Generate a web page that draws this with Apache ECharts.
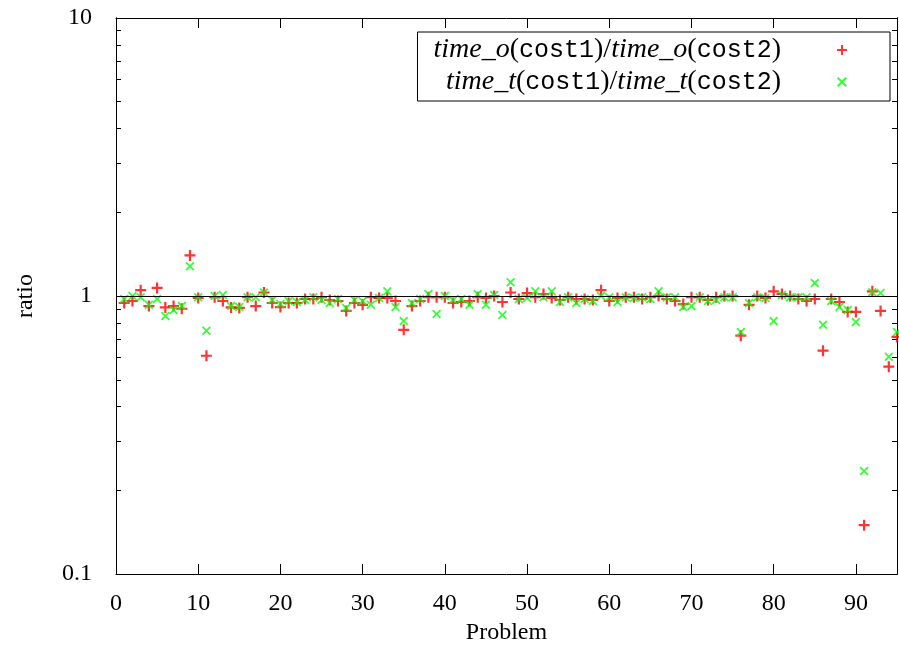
<!DOCTYPE html>
<html>
<head>
<meta charset="utf-8">
<script src="https://cdn.jsdelivr.net/npm/echarts@6/dist/echarts.min.js"></script>
<style>
  html, body { margin: 0; padding: 0; background: #ffffff; }
  #chart { width: 899px; height: 650px; }
</style>
</head>
<body>
<div id="chart"></div>
<script>
// Problem indices
const problems = [
  1, 2, 3, 4, 5, 6, 7, 8, 9, 10,
  11, 12, 13, 14, 15, 16, 17, 18, 19, 20,
  21, 22, 23, 24, 25, 26, 27, 28, 29, 30,
  31, 32, 33, 34, 35, 36, 37, 38, 39, 40,
  41, 42, 43, 44, 45, 46, 47, 48, 49, 50,
  51, 52, 53, 54, 55, 56, 57, 58, 59, 60,
  61, 62, 63, 64, 65, 66, 67, 68, 69, 70,
  71, 72, 73, 74, 75, 76, 77, 78, 79, 80,
  81, 82, 83, 84, 85, 86, 87, 88, 89, 90,
  91, 92, 93, 94, 95
];

// time_o(cost1) / time_o(cost2)
const ratioO = [
  0.944, 0.96, 1.05, 0.92, 1.07, 0.91, 0.92, 0.90, 1.40, 0.984,
  0.61, 0.99, 0.96, 0.91, 0.906, 0.99, 0.92, 1.03, 0.944, 0.913,
  0.944, 0.944, 0.976, 0.976, 0.99, 0.968, 0.96, 0.884, 0.944, 0.93,
  0.99, 0.984, 0.984, 0.96, 0.756, 0.92, 0.96, 0.99, 0.99, 0.99,
  0.944, 0.952, 0.96, 0.99, 0.984, 1.0, 0.952, 1.03, 0.976, 1.025,
  0.99, 1.017, 0.984, 0.968, 0.99, 0.976, 0.976, 0.968, 1.05, 0.96,
  0.984, 0.99, 0.99, 0.976, 0.99, 1.0, 0.976, 0.96, 0.936, 0.99,
  0.99, 0.968, 0.99, 1.0, 1.0, 0.72, 0.93, 1.0, 0.984, 1.04,
  1.017, 1.0, 0.976, 0.96, 0.976, 0.636, 0.976, 0.952, 0.877, 0.877,
  0.15, 1.04, 0.884, 0.557, 0.713
];

// time_t(cost1) / time_t(cost2)
const ratioT = [
  0.976, 1.0, 0.99, 0.93, 0.976, 0.848, 0.891, 0.92, 1.28, 0.99,
  0.75, 1.0, 1.008, 0.92, 0.913, 0.99, 0.99, 1.03, 0.968, 0.936,
  0.96, 0.952, 0.968, 0.99, 0.968, 0.944, 0.976, 0.906, 0.968, 0.96,
  0.93, 0.984, 1.04, 0.913, 0.814, 0.944, 0.976, 1.017, 0.862, 1.0,
  0.968, 0.976, 0.93, 1.017, 0.93, 1.008, 0.855, 1.12, 0.976, 0.984,
  1.04, 0.99, 1.04, 0.952, 0.99, 0.944, 0.976, 0.96, 1.0, 0.99,
  0.952, 0.99, 0.984, 0.99, 0.976, 1.04, 0.99, 0.99, 0.913, 0.92,
  0.99, 0.96, 0.968, 0.99, 0.99, 0.743, 0.944, 0.99, 0.984, 0.814,
  1.008, 0.99, 0.99, 0.99, 1.113, 0.788, 0.96, 0.913, 0.891, 0.807,
  0.235, 1.033, 1.025, 0.605, 0.743
];

const xTicks = [0, 10, 20, 30, 40, 50, 60, 70, 80, 90];
const yMajorTicks = [0.1, 1, 10];
const yMinorTicks = [0.2, 0.3, 0.4, 0.5, 0.6, 0.7, 0.8, 0.9, 2, 3, 4, 5, 6, 7, 8, 9];

const seriesNames = ['time_o(cost1)/time_o(cost2)', 'time_t(cost1)/time_t(cost2)'];

const SERIF = 'Liberation Serif';
const MONO = 'Liberation Mono';
const BLACK = '#000000';

// Point markers: a plus and a diagonal cross, as filled outlines
const PLUS = 'path://M4,0H6V4H10V6H6V10H4V6H0V4H4Z';
const CROSS = 'path://M0,1.4L1.4,0L5,3.6L8.6,0L10,1.4L6.4,5L10,8.6L8.6,10L5,6.4L1.4,10L0,8.6L3.6,5Z';

function pairs(xs, ys) {
  return xs.map((x, i) => [x, ys[i]]);
}

function yAxisDef(position, ticks, len, withLabels) {
  return {
    type: 'log',
    logBase: 10,
    min: 0.1,
    max: 10,
    position: position,
    axisLine: { show: true, lineStyle: { color: BLACK, width: 1 } },
    axisTick: { show: true, inside: true, length: len, customValues: ticks,
                lineStyle: { color: BLACK, width: 1 } },
    minorTick: { show: false },
    splitLine: { show: false },
    axisLabel: withLabels ? {
      show: true,
      customValues: ticks,
      margin: 24,
      fontFamily: SERIF,
      fontSize: 24,
      color: BLACK,
      formatter: v => String(Number(v.toPrecision(3)))
    } : { show: false }
  };
}

function xAxisDef(position, withLabels) {
  const ax = {
    type: 'value',
    min: 0,
    max: 95,
    position: position,
    axisLine: { show: true, onZero: false, lineStyle: { color: BLACK, width: 1 } },
    axisTick: { show: true, inside: true, length: 10, customValues: xTicks,
                lineStyle: { color: BLACK, width: 1 } },
    splitLine: { show: false },
    axisLabel: withLabels ? {
      show: true,
      customValues: xTicks,
      margin: 18,
      fontFamily: SERIF,
      fontSize: 24,
      color: BLACK
    } : { show: false }
  };
  if (withLabels) {
    ax.name = 'Problem';
    ax.nameLocation = 'middle';
    ax.nameGap = 46;
    ax.nameTextStyle = { fontFamily: SERIF, fontSize: 24, color: BLACK };
  }
  return ax;
}

const yMain = yAxisDef('left', yMajorTicks, 10, true);
yMain.name = 'ratio';
yMain.nameLocation = 'middle';
yMain.nameGap = 78;
yMain.nameTextStyle = { fontFamily: SERIF, fontSize: 24, color: BLACK };

const chart = echarts.init(document.getElementById('chart'), null, { renderer: 'canvas' });

chart.setOption({
  animation: false,
  backgroundColor: '#ffffff',
  grid: { left: 116, right: 2, top: 18, bottom: 73, containLabel: false },
  xAxis: [xAxisDef('bottom', true), xAxisDef('top', false)],
  yAxis: [
    yMain,
    yAxisDef('left', yMinorTicks, 5, false),
    yAxisDef('right', yMajorTicks, 10, false),
    yAxisDef('right', yMinorTicks, 5, false)
  ],
  legend: {
    orient: 'vertical',
    align: 'right',
    right: 9,
    top: 32,
    padding: [4, 43, 5, 16],
    itemGap: 4,
    itemWidth: 10,
    itemHeight: 10,
    borderColor: BLACK,
    borderWidth: 1,
    borderRadius: 0,
    data: seriesNames,
    formatter: function (name) {
      const m = name.match(/^time_(\w)\(cost1\)\/time_\w\(cost2\)$/);
      const s = m ? m[1] : '';
      return '{it|time_' + s + '}{rm|(}{tt|cost1}{rm|)/}{it|time_' + s + '}{rm|(}{tt|cost2}{rm|)}{sp|}';
    },
    textStyle: {
      color: BLACK,
      lineHeight: 26,
      rich: {
        it: { fontFamily: SERIF, fontStyle: 'italic', fontSize: 28, lineHeight: 26, color: BLACK },
        rm: { fontFamily: SERIF, fontSize: 28, lineHeight: 26, color: BLACK },
        tt: { fontFamily: MONO, fontSize: 25, lineHeight: 26, color: BLACK },
        sp: { width: 51, lineHeight: 26 }
      }
    }
  },
  series: [
    {
      name: seriesNames[0],
      type: 'scatter',
      xAxisIndex: 0,
      yAxisIndex: 0,
      symbol: PLUS,
      symbolSize: 11,
      itemStyle: { color: '#ff0000' },
      data: pairs(problems, ratioO),
      markLine: {
        silent: true,
        symbol: 'none',
        label: { show: false },
        lineStyle: { color: BLACK, width: 1.2, type: 'solid' },
        data: [{ yAxis: 1 }]
      },
      z: 3
    },
    {
      name: seriesNames[1],
      type: 'scatter',
      xAxisIndex: 0,
      yAxisIndex: 0,
      symbol: CROSS,
      symbolSize: 9,
      itemStyle: { color: '#00ff00' },
      data: pairs(problems, ratioT),
      z: 4
    }
  ]
});
</script>
</body>
</html>
